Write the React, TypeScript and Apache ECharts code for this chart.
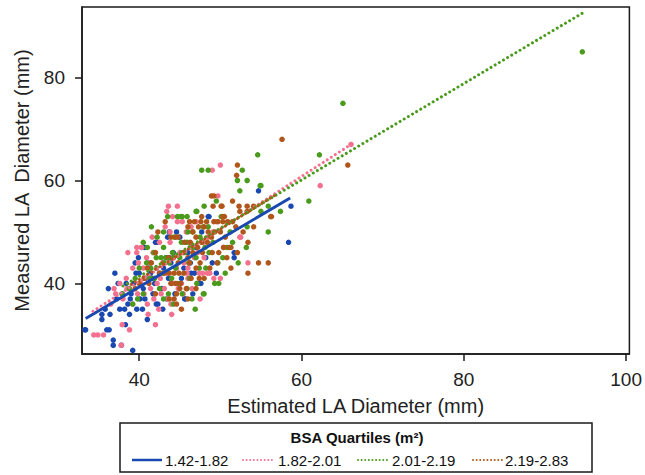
import React, { useEffect, useRef } from "react";
import * as echarts from "echarts";

// ---- data ----
const seriesNames = ["1.42-1.82", "1.82-2.01", "2.01-2.19", "2.19-2.83"];
const xTicks = [40, 60, 80, 100];
const yTicks = [40, 60, 80];

const blueData = [
  [33.3, 31], [33.4, 31], [35.4, 34], [35.4, 33], [36.0, 31], [36.3, 31], [36.8, 29], [36.8, 28], [37.8, 28], [39.2, 27],
  [35.8, 35], [36.4, 34], [37.6, 35], [38.2, 35], [38.8, 34], [39.7, 35], [40.4, 35], [38.3, 32], [41.0, 33], [42.1, 36],
  [40.1, 37], [40.7, 37], [41.7, 38], [42.3, 36], [42.9, 35], [43.4, 37], [44.4, 38], [45.7, 37], [46.6, 38], [45.6, 37],
  [36.2, 39], [37.0, 42], [37.4, 40], [37.9, 38], [38.4, 40], [38.6, 36], [38.9, 37], [39.3, 40], [39.5, 44], [39.9, 45],
  [39.6, 42], [40.0, 42], [40.5, 39], [40.8, 41], [41.2, 44], [41.4, 42], [41.6, 41], [41.9, 40], [42.5, 42], [42.8, 39],
  [43.0, 43], [43.3, 45], [43.6, 41], [43.7, 45], [43.9, 44], [44.0, 40], [44.2, 46], [44.9, 39], [45.2, 41], [45.5, 43],
  [46.0, 46], [46.3, 44], [46.4, 42], [46.8, 42], [47.2, 40], [47.6, 40], [47.0, 47], [48.2, 45], [49.0, 44], [49.5, 42],
  [40.3, 47], [40.7, 47], [42.0, 48], [42.2, 48], [43.5, 49], [43.7, 50], [44.6, 50], [45.0, 49], [47.7, 50], [48.6, 53],
  [48.5, 53], [51.7, 46], [51.7, 45], [54.7, 58], [58.4, 48], [58.7, 55], [39.0, 38], [37.2, 37],
];

const pinkData = [
  [34.4, 30], [34.9, 30], [35.6, 30], [37.8, 28], [37.9, 32], [38.8, 31], [41.1, 34], [42.4, 35], [37.1, 38], [36.5, 36],
  [38.0, 37], [38.5, 39], [39.2, 36], [39.8, 38], [40.2, 40], [40.6, 38], [41.0, 36], [41.4, 39], [41.8, 37], [42.2, 40],
  [42.7, 38], [43.1, 39], [43.5, 37], [43.9, 36], [44.3, 40], [44.8, 39], [45.4, 38], [45.2, 40], [46.0, 41], [46.5, 39],
  [38.6, 46], [39.7, 46], [40.3, 47], [39.7, 47], [39.2, 43], [39.9, 44], [40.5, 43], [40.9, 45], [41.3, 44], [41.7, 46],
  [42.1, 43], [42.5, 48], [42.9, 44], [43.2, 51], [43.8, 50], [43.8, 48], [44.2, 45], [44.6, 43], [45.0, 46], [45.5, 44],
  [46.0, 43], [46.3, 47], [46.8, 45], [47.4, 42], [47.8, 42], [48.4, 42], [48.7, 42], [49.2, 41], [50.0, 41], [53.4, 44],
  [47.2, 46], [47.9, 48], [48.5, 49], [49.1, 50], [49.5, 52], [47.0, 52], [46.4, 51], [45.3, 52], [44.7, 52], [44.1, 53],
  [43.4, 54], [43.6, 55], [44.7, 55], [45.8, 50], [42.6, 41], [43.4, 42], [38.4, 41], [37.6, 40], [36.9, 39], [40.7, 41],
  [49.0, 62], [50.0, 63], [49.7, 57], [52.4, 49], [52.5, 49], [62.3, 59], [66.1, 67], [45.4, 38], [45.9, 42], [41.6, 49],
  [48.0, 45], [50.4, 47], [47.5, 37], [44.0, 34], [42.0, 32],
];

const greenData = [
  [39.2, 36], [39.8, 37], [40.5, 38], [41.3, 41], [41.9, 41], [42.5, 39], [43.0, 37], [43.6, 38], [44.2, 36], [44.8, 40],
  [45.3, 38], [45.9, 39], [46.5, 37], [47.1, 40], [47.9, 38], [48.0, 38], [49.3, 40], [49.8, 40], [46.2, 41], [47.4, 43],
  [40.5, 48], [40.9, 44], [41.4, 43], [41.8, 46], [42.1, 45], [42.7, 45], [43.3, 45], [43.0, 47], [43.7, 44], [44.1, 46],
  [44.5, 43], [45.0, 45], [45.2, 48], [45.9, 48], [45.6, 46], [46.1, 44], [46.6, 47], [47.0, 45], [47.5, 49], [48.1, 47],
  [48.6, 46], [49.1, 48], [49.7, 44], [50.3, 45], [50.8, 47], [51.5, 48], [51.2, 50], [52.2, 44], [53.3, 51], [55.9, 50],
  [43.5, 53], [44.7, 53], [45.3, 53], [45.1, 53], [45.9, 53], [47.0, 54], [47.1, 54], [46.0, 50], [46.6, 50], [47.9, 51],
  [48.5, 51], [43.0, 50], [44.3, 49], [42.2, 49], [41.0, 47], [40.0, 43], [39.5, 41], [38.8, 39], [41.5, 51], [50.1, 53],
  [47.7, 62], [48.5, 62], [52.7, 62], [53.3, 60], [52.1, 60], [52.4, 58], [55.0, 59], [54.9, 59], [54.6, 65], [62.2, 65],
  [60.9, 56], [55.9, 55], [57.4, 54], [55.0, 54], [65.1, 75], [94.6, 85], [48.0, 55], [49.5, 56], [44.0, 41], [42.9, 42],
  [46.9, 35], [48.2, 43], [50.6, 42], [53.2, 47], [37.9, 38],
];

const brownData = [
  [42.3, 50], [43.9, 49], [44.5, 49], [42.5, 42], [43.1, 42], [43.7, 42], [44.3, 42], [44.9, 42], [45.5, 42], [43.9, 40],
  [44.5, 40], [45.1, 40], [43.7, 37], [44.3, 37], [44.6, 36], [45.0, 39], [45.8, 39], [46.4, 41], [47.0, 43], [47.5, 44],
  [43.0, 44], [43.6, 45], [44.2, 45], [44.8, 44], [45.4, 46], [46.0, 45], [46.6, 46], [47.2, 47], [47.8, 46], [48.4, 48],
  [49.0, 46], [49.8, 46], [50.4, 47], [51.1, 47], [51.3, 47], [52.1, 46], [51.3, 43], [53.4, 42], [54.7, 44], [55.9, 44],
  [42.0, 46], [41.5, 44], [41.0, 43], [40.6, 41], [41.2, 40], [42.0, 38], [46.2, 52], [46.8, 52], [47.6, 52], [48.3, 52],
  [49.2, 52], [49.7, 52], [50.3, 52], [50.9, 52], [46.0, 51], [46.6, 50], [47.3, 51], [48.0, 51], [48.5, 50], [49.3, 50],
  [44.8, 49], [45.6, 48], [46.3, 48], [47.0, 49], [47.7, 48], [48.9, 49], [50.0, 50], [50.6, 49], [43.2, 52], [47.7, 53],
  [50.3, 53], [50.5, 53], [48.9, 57], [49.2, 57], [49.1, 55], [50.1, 55], [50.2, 55], [51.5, 56], [52.3, 55], [53.3, 55],
  [54.1, 55], [52.1, 63], [52.0, 61], [57.6, 68], [65.7, 63], [56.2, 53], [56.3, 53], [54.1, 51], [53.3, 54], [52.4, 54],
  [51.5, 52], [51.9, 51], [52.8, 50], [53.4, 48], [44.6, 38], [45.2, 35], [46.0, 37], [47.0, 39], [48.0, 41], [48.7, 43],
  [49.6, 44], [50.8, 45], [46.2, 44], [47.4, 41], [40.0, 40], [39.5, 39],
];

// fitted lines (end points)
const blueFit = [[33.4, 33.2], [58.6, 56.6]];
const pinkFit = [[34.3, 34.6], [66.1, 67.0]];
const greenFit = [[38.0, 39.5], [94.6, 92.5]];
const brownFit = [[39.0, 39.8], [57.0, 57.4]];

const colors = ["#1848b0", "#f4708e", "#4a9a1c", "#b0561a"];
const FONT = "'Liberation Sans', Arial, sans-serif";

export default function App() {
  const ref = useRef<HTMLDivElement>(null);
  useEffect(() => {
    document.body.style.margin = "0";
    const chart = echarts.init(ref.current!, undefined, { renderer: "svg" });
    const scatters = [blueData, pinkData, greenData, brownData].map((d, i) => ({
      name: seriesNames[i],
      type: "scatter",
      data: d,
      symbolSize: 5.5,
      itemStyle: { color: colors[i], opacity: 1 },
      z: 2,
    }));
    const fits = [blueFit, pinkFit, greenFit, brownFit].map((d, i) => ({
      name: seriesNames[i] + " fit",
      type: "line",
      data: d,
      symbol: "none",
      showSymbol: false,
      lineStyle:
        i === 0
          ? { color: colors[i], width: 3 }
          : { color: colors[i], width: 3, type: [0.01, 4.8], cap: "round" },
      z: 3,
    }));

    const legendItems: any[] = [];
    const sx = [132, 243, 358, 473];
    const tx = [165, 278, 392, 505];
    for (let i = 0; i < 4; i++) {
      legendItems.push({
        type: "line",
        shape: { x1: sx[i], y1: 460, x2: sx[i] + 30, y2: 460 },
        style:
          i === 0
            ? { stroke: colors[i], lineWidth: 2.5 }
            : { stroke: colors[i], lineWidth: 2, lineDash: [0.01, 3.6], lineCap: "round" },
      });
      legendItems.push({
        type: "text",
        x: tx[i],
        y: 460,
        style: {
          text: seriesNames[i],
          fontSize: 15,
          fontFamily: FONT,
          fill: "#111",
          align: "left",
          verticalAlign: "middle",
        },
      });
    }

    chart.setOption({
      animation: false,
      grid: {
        left: 82,
        right: 11,
        top: 7,
        bottom: 121,
        show: true,
        borderColor: "#1a1a1a",
        borderWidth: 1.5,
        backgroundColor: "#fff",
      },
      xAxis: {
        type: "value",
        min: 32.95,
        max: 100.4,
        name: "Estimated LA Diameter (mm)",
        nameLocation: "middle",
        nameGap: 42,
        nameTextStyle: { fontSize: 20, fontFamily: FONT, color: "#222" },
        splitLine: { show: false },
        axisLine: { show: true, lineStyle: { color: "#1a1a1a", width: 1.5 } },
        axisTick: { show: true, length: 7, customValues: xTicks, lineStyle: { color: "#1a1a1a", width: 1.5 } },
        axisLabel: { customValues: xTicks, fontSize: 19, fontFamily: FONT, color: "#222", margin: 16 },
      },
      yAxis: {
        type: "value",
        min: 26.3,
        max: 93.7,
        name: "Measured LA  Diameter (mm)",
        nameLocation: "middle",
        nameGap: 50,
        nameTextStyle: { fontSize: 20, fontFamily: FONT, color: "#222" },
        splitLine: { show: false },
        axisLine: { show: true, lineStyle: { color: "#1a1a1a", width: 1.5 } },
        axisTick: { show: true, length: 7, customValues: yTicks, lineStyle: { color: "#1a1a1a", width: 1.5 } },
        axisLabel: { customValues: yTicks, fontSize: 19, fontFamily: FONT, color: "#222", margin: 17 },
      },
      series: [...scatters, ...fits],
      graphic: [
        {
          type: "rect",
          shape: { x: 120, y: 423, width: 472, height: 49 },
          style: { fill: "#fff", stroke: "#1a1a1a", lineWidth: 1.5 },
        },
        {
          type: "text",
          x: 357,
          y: 437,
          style: {
            text: "BSA Quartiles (m²)",
            fontSize: 15,
            fontWeight: "bold",
            fontFamily: FONT,
            fill: "#111",
            align: "center",
            verticalAlign: "middle",
          },
        },
        ...legendItems,
      ],
    });
    return () => chart.dispose();
  }, []);
  return <div ref={ref} style={{ width: 645, height: 475 }} />;
}
